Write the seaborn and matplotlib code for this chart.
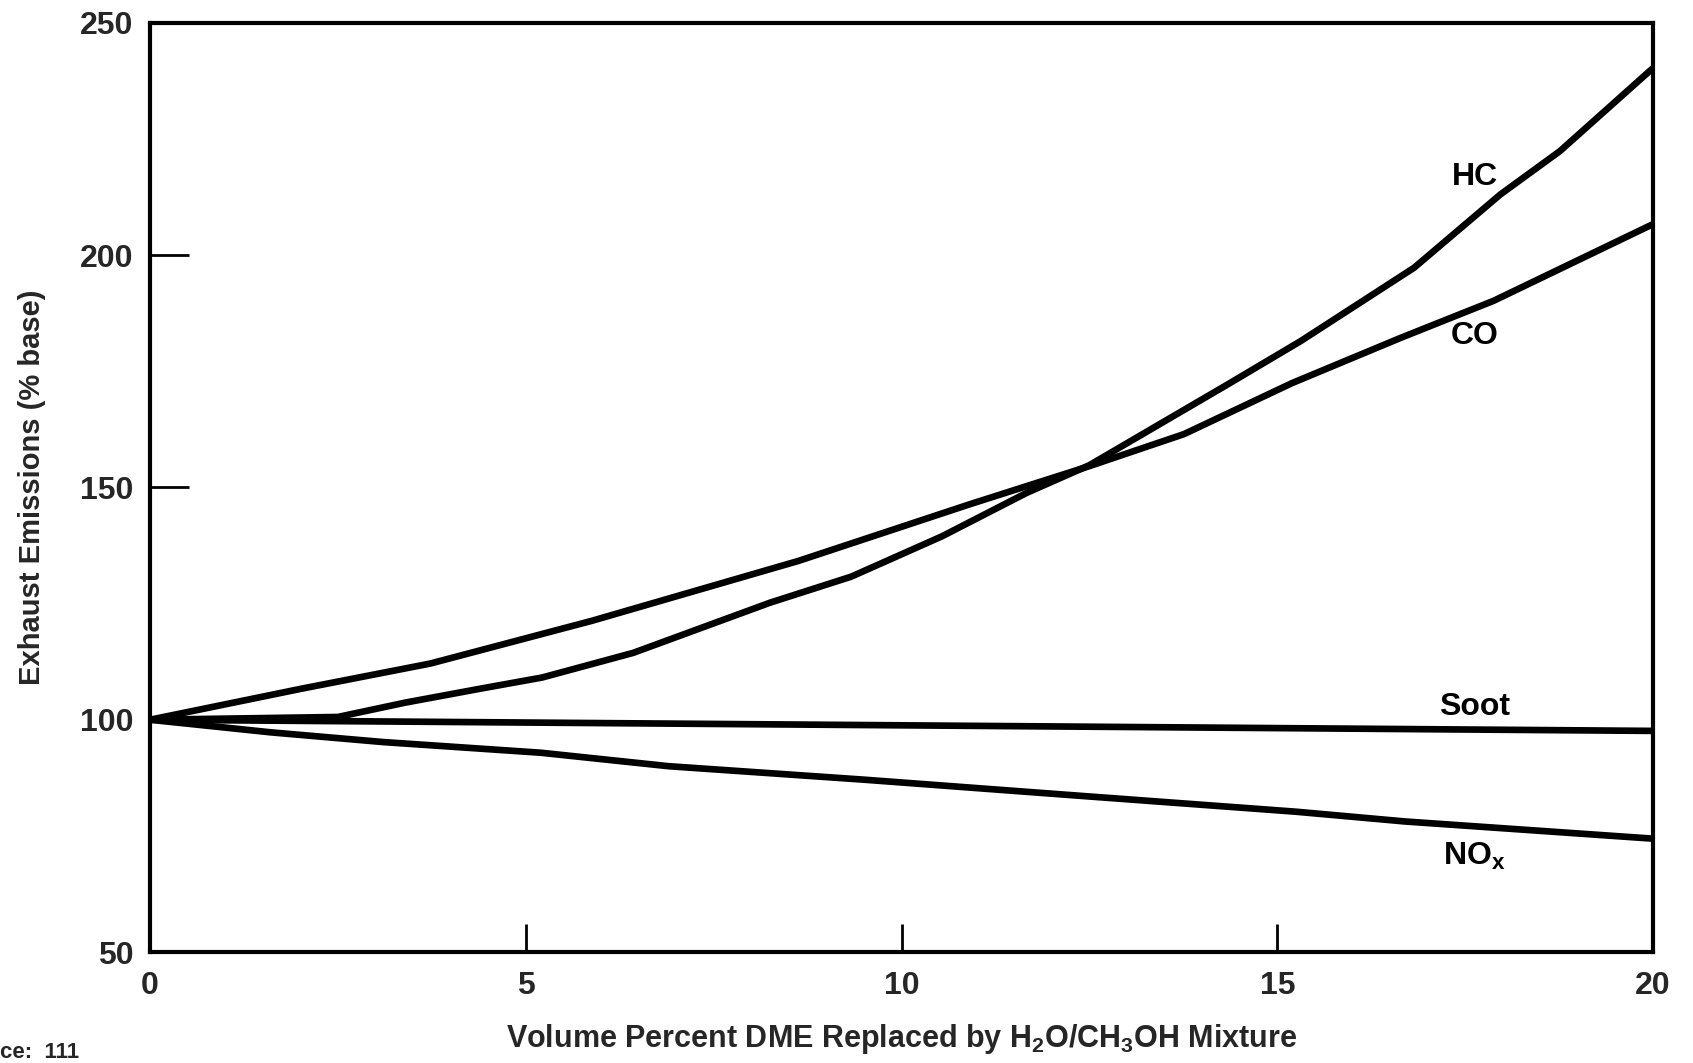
import numpy as np
import pandas as pd
import matplotlib
matplotlib.use("Agg")
import matplotlib.pyplot as plt
import seaborn as sns

# ---- data ----
hc_x = [0, 2.5, 3.4, 4.4, 5.22, 6.43, 8.25, 9.33, 10.54, 11.66, 12.5, 14.32, 15.31, 16.82, 17.97, 18.76, 20]
hc_y = [100, 100.6, 103.7, 106.7, 109.1, 114.4, 125.2, 130.8, 139.5, 148.8, 154.8, 172.0, 181.5, 197.3, 213.1, 222.4, 240.3]

co_x = [0, 2.02, 3.73, 5.88, 8.63, 10.91, 12.5, 13.76, 15.2, 16.64, 17.88, 20]
co_y = [100, 106.7, 112.1, 121.3, 134.2, 146.4, 154.6, 161.5, 172.5, 182.2, 190.2, 206.7]

soot_x = [0, 5, 10, 15, 20]
soot_y = [100, 99.4, 98.8, 98.2, 97.6]

nox_x = [0, 1.6, 3.1, 5.2, 6.9, 9.5, 12.4, 15.25, 16.7, 20]
nox_y = [100, 97.3, 95.2, 92.9, 90.0, 87.1, 83.6, 80.2, 78.1, 74.4]

series_names = ["HC", "CO", "Soot", "NOx"]
label_texts = ["HC", "CO", "Soot", "NO$_\\mathregular{x}$"]
label_x = [17.63, 17.63, 17.62, 17.62]
label_y = [216.8, 182.6, 102.7, 70.6]

x_ticks = [0, 5, 10, 15, 20]
y_ticks = [50, 100, 150, 200, 250]

df = pd.concat([
    pd.DataFrame({"x": hc_x, "y": hc_y, "series": "HC"}),
    pd.DataFrame({"x": co_x, "y": co_y, "series": "CO"}),
    pd.DataFrame({"x": soot_x, "y": soot_y, "series": "Soot"}),
    pd.DataFrame({"x": nox_x, "y": nox_y, "series": "NOx"}),
], ignore_index=True)

sns.set_style("ticks")
plt.rcParams["font.family"] = ["Liberation Sans", "DejaVu Sans"]
plt.rcParams["font.weight"] = "bold"
plt.rcParams["mathtext.fontset"] = "custom"
plt.rcParams["mathtext.rm"] = "Liberation Sans:bold"
plt.rcParams["mathtext.it"] = "Liberation Sans:bold"
plt.rcParams["mathtext.bf"] = "Liberation Sans:bold"
plt.rcParams["mathtext.default"] = "rm"

fig = plt.figure(figsize=(16.93, 10.63), dpi=100)
ax = fig.add_axes([150 / 1693, 1 - 952 / 1063, (1653 - 150) / 1693, (952 - 23) / 1063])

sns.lineplot(data=df, x="x", y="y", hue="series", hue_order=series_names,
             palette=["black"] * 4, linewidth=4.8, legend=False, ax=ax,
             sort=False, estimator=None)

for t, lx, ly in zip(label_texts, label_x, label_y):
    ax.text(lx, ly, t, fontsize=23, fontweight="bold", ha="center", va="center", color="black")

ax.set_xlim(0, 20)
ax.set_ylim(50, 250)
ax.set_xticks(x_ticks)
ax.set_yticks(y_ticks)
ax.set_xticklabels([str(v) for v in x_ticks])
ax.set_yticklabels([str(v) for v in y_ticks])
ax.tick_params(axis="y", direction="in", length=28, width=2, pad=12, labelsize=23, color="black")
ax.tick_params(axis="x", direction="in", length=20, width=2, pad=14, labelsize=23, color="black")
for lab in ax.get_xticklabels() + ax.get_yticklabels():
    lab.set_fontweight("bold")

for s in ax.spines.values():
    s.set_linewidth(3)
    s.set_color("black")
    s.set_visible(True)

ax.set_xlabel("Volume Percent DME Replaced by H$_2$O/CH$_3$OH Mixture",
              fontsize=22, fontweight="bold", labelpad=15)
ax.set_ylabel("Exhaust Emissions (% base)", fontsize=21, fontweight="bold", labelpad=24)

fig.text(0.0, 0.0, "ce:  111", fontsize=16, fontweight="bold",
         ha="left", va="bottom")

fig.savefig("out.png", dpi=100, facecolor="white")
